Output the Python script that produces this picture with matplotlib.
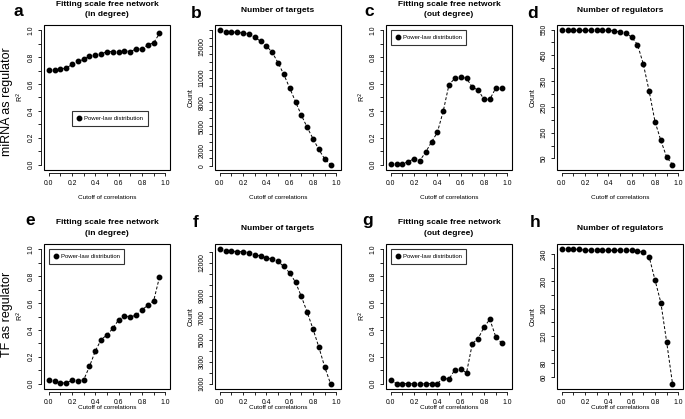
import numpy as np
import matplotlib
matplotlib.use("Agg")
import matplotlib.pyplot as plt
from matplotlib.lines import Line2D
from matplotlib.patches import Rectangle

plt.rcParams['font.family'] = ['Liberation Sans', 'DejaVu Sans']

cutoff = [0.0, 0.05, 0.1, 0.15, 0.2, 0.25, 0.3, 0.35, 0.4, 0.45,
          0.5, 0.55, 0.6, 0.65, 0.7, 0.75, 0.8, 0.85, 0.9, 0.95]

mirna_in_r2 = [0.706, 0.706, 0.711, 0.719, 0.746, 0.769, 0.784, 0.809, 0.817, 0.824,
               0.842, 0.842, 0.842, 0.849, 0.842, 0.862, 0.862, 0.892, 0.907, 0.977]
mirna_targets = [16975, 16800, 16800, 16720, 16640, 16510, 16130, 15630, 15040, 14240,
                 12940, 11470, 9790, 8070, 6390, 4870, 3450, 2100, 920, 210]
mirna_out_r2 = [0.003, 0.003, 0.008, 0.02, 0.045, 0.03, 0.093, 0.168, 0.24, 0.396,
                0.596, 0.642, 0.652, 0.644, 0.576, 0.556, 0.486, 0.486, 0.569, 0.569]
mirna_regulators = [547, 547, 547, 547, 547, 547, 547, 547, 547, 545,
                    540, 536, 521, 492, 416, 311, 193, 120, 55, 26]

tf_in_r2 = [0.03, 0.018, 0.005, 0.005, 0.025, 0.02, 0.028, 0.128, 0.243, 0.328,
            0.363, 0.411, 0.476, 0.506, 0.496, 0.511, 0.549, 0.584, 0.617, 0.794]
tf_targets = [13230, 13080, 13080, 13020, 13020, 12930, 12740, 12620, 12470, 12310,
              12130, 11670, 11090, 10240, 8950, 7510, 5980, 4330, 2530, 1000]
tf_out_r2 = [0.03, 0.0, 0.0, 0.0, 0.0, 0.0, 0.0, 0.0, 0.0, 0.04,
             0.033, 0.103, 0.11, 0.08, 0.298, 0.336, 0.421, 0.479, 0.351, 0.303]
tf_regulators = [247, 247, 247, 247, 245.6, 245.6, 245.6, 245.6, 245.6, 245.6,
                 245.6, 245.6, 245.6, 244, 243, 236, 202, 169, 111, 50]

x_ticks = [0.0, 0.1, 0.2, 0.3, 0.4, 0.5, 0.6, 0.7, 0.8, 0.9, 1.0]
x_labels = ['0.0', '', '0.2', '', '0.4', '', '0.6', '', '0.8', '', '1.0']
r2_ticks = [0.0, 0.1, 0.2, 0.3, 0.4, 0.5, 0.6, 0.7, 0.8, 0.9, 1.0]
r2_labels = ['0.0', '', '0.2', '', '0.4', '', '0.6', '', '0.8', '', '1.0']
b_ticks = list(range(0, 17001, 1000))
b_labels = ['0', '2000', '5000', '8000', '11000', '15000']
f_ticks = list(range(1000, 13001, 1000))
f_labels = ['1000', '3000', '5000', '7000', '9000', '12000']
d_ticks = list(range(50, 551, 50))
d_labels = ['50', '150', '250', '350', '450', '550']
h_ticks = list(range(60, 241, 20))
h_labels = ['240', '200', '160', '120', '80', '60']

W, H = 685, 419
fig = plt.figure(figsize=(W / 100, H / 100), dpi=100)

col_left = [44, 215, 386, 557]
box_w = 126
rows = [(25, 170), (244, 389)]

TICK_FS = 4.9
LAB_FS = 4.6
MS = 3.2

def ftxt(x, y, s, **kw):
    fig.text(x / W, 1 - y / H, s, **kw)

def make_ax(r, c):
    top, bot = rows[r]
    l = col_left[c]
    ax = fig.add_axes([l / W, 1 - bot / H, box_w / W, (bot - top) / H])
    return ax

def style(ax, y, yticks, ylabels_map, ylim=None, ylabel='Count', xlab_off=27):
    for s in ['top', 'right']:
        ax.spines[s].set_visible(False)
    for s in ['left', 'bottom']:
        ax.spines[s].set_position(('outward', 2.5))
        ax.spines[s].set_linewidth(0.6)
    ax.plot(cutoff, y, color='black', lw=0.7, ls=(0, (3, 2)), zorder=2)
    ax.plot(cutoff, y, 'o', color='black', ms=MS, zorder=3)
    ax.set_xlim(-0.04, 1.04)
    if ylim is None:
        lo, hi = min(y), max(y)
        pad = 0.04 * (hi - lo)
        ylim = (lo - pad, hi + pad)
    ax.set_ylim(*ylim)
    ax.set_xticks(x_ticks)
    ax.set_xticklabels(x_labels)
    ax.set_yticks(yticks)
    ax.set_yticklabels([ylabels_map.get(t, '') for t in yticks], va='center')
    ax.tick_params(length=2.4, width=0.6, pad=2, color='black', direction='out',
                   labelsize=TICK_FS)
    ax.tick_params(axis='y', labelrotation=90)
    ax.spines['left'].set_bounds(yticks[0], yticks[-1])
    ax.spines['bottom'].set_bounds(0, 1)
    ax.add_patch(Rectangle((0, 0), 1, 1, transform=ax.transAxes, fill=False,
                           lw=0.8, ec='black', clip_on=False, zorder=4))
    hpx = ax.get_position().height * H
    ax.set_xlabel('Cutoff of correlations', fontsize=LAB_FS)
    ax.xaxis.set_label_coords(0.5, -xlab_off / hpx)
    ax.xaxis.label.set_va('center')
    ax.set_ylabel(ylabel, fontsize=LAB_FS + 0.4)
    ax.yaxis.set_label_coords(-24 / box_w, 0.5)
    ax.yaxis.label.set_va('center')

def add_legend(ax, xy):
    h = Line2D([], [], marker='o', ls='none', color='black', ms=MS)
    leg = ax.legend([h], ['Power-law distribution'], loc='upper left',
                    bbox_to_anchor=xy, bbox_transform=ax.transData,
                    fontsize=4.3, frameon=True, fancybox=False, borderaxespad=0,
                    handlelength=0.8, handletextpad=0.4, borderpad=0.8)
    leg.get_frame().set_edgecolor('black')
    leg.get_frame().set_linewidth(0.8)

r2map = dict(zip(r2_ticks, r2_labels))

def sel_map(ticks, labels):
    vals = [int(l) for l in labels]
    return {t: (str(t) if t in vals else '') for t in ticks}

xo = [27, 18]

# Row 1
ax = make_ax(0, 0)
style(ax, mirna_in_r2, r2_ticks, r2map, ylim=(-0.04, 1.04), ylabel='R$^2$', xlab_off=xo[0])
add_legend(ax, (0.2, 0.4))
ax = make_ax(0, 1)
style(ax, mirna_targets, b_ticks, sel_map(b_ticks, b_labels), xlab_off=xo[0])
ax = make_ax(0, 2)
style(ax, mirna_out_r2, r2_ticks, r2map, ylim=(-0.04, 1.04), ylabel='R$^2$', xlab_off=xo[0])
add_legend(ax, (0.0, 1.0))
ax = make_ax(0, 3)
style(ax, mirna_regulators, d_ticks, sel_map(d_ticks, d_labels), xlab_off=xo[0])

# Row 2
ax = make_ax(1, 0)
style(ax, tf_in_r2, r2_ticks, r2map, ylim=(-0.04, 1.04), ylabel='R$^2$', xlab_off=xo[1])
add_legend(ax, (0.0, 1.0))
ax = make_ax(1, 1)
style(ax, tf_targets, f_ticks, sel_map(f_ticks, f_labels), xlab_off=xo[1])
ax = make_ax(1, 2)
style(ax, tf_out_r2, r2_ticks, r2map, ylim=(-0.04, 1.04), ylabel='R$^2$', xlab_off=xo[1])
add_legend(ax, (0.0, 1.0))
ax = make_ax(1, 3)
style(ax, tf_regulators, h_ticks, sel_map(h_ticks, h_labels), xlab_off=xo[1])

# Titles
TFS = 6.0
cx = [l + box_w / 2 for l in col_left]
ftxt(cx[0], 5, 'Fitting scale free network', ha='center', va='center', fontsize=TFS, fontweight='bold')
ftxt(cx[0], 15, '(in degree)', ha='center', va='center', fontsize=TFS, fontweight='bold')
ftxt(cx[1], 10, 'Number of targets', ha='center', va='center', fontsize=TFS, fontweight='bold')
ftxt(cx[2], 5, 'Fitting scale free network', ha='center', va='center', fontsize=TFS, fontweight='bold')
ftxt(cx[2], 15, '(out degree)', ha='center', va='center', fontsize=TFS, fontweight='bold')
ftxt(cx[3], 10, 'Number of regulators', ha='center', va='center', fontsize=TFS, fontweight='bold')

ftxt(cx[0], 222, 'Fitting scale free network', ha='center', va='center', fontsize=TFS, fontweight='bold')
ftxt(cx[0], 233, '(in degree)', ha='center', va='center', fontsize=TFS, fontweight='bold')
ftxt(cx[1], 228, 'Number of targets', ha='center', va='center', fontsize=TFS, fontweight='bold')
ftxt(cx[2], 222, 'Fitting scale free network', ha='center', va='center', fontsize=TFS, fontweight='bold')
ftxt(cx[2], 233, '(out degree)', ha='center', va='center', fontsize=TFS, fontweight='bold')
ftxt(cx[3], 228, 'Number of regulators', ha='center', va='center', fontsize=TFS, fontweight='bold')

# Panel letters
LFS = 12.5
for s, x, y in [('a', 18, 11), ('b', 196, 13), ('c', 369, 12), ('d', 533, 13),
                ('e', 30, 220), ('f', 196, 222), ('g', 368, 220), ('h', 535, 222)]:
    ftxt(x, y, s, ha='center', va='center', fontsize=LFS, fontweight='bold')

# Row labels
ftxt(7, 102, 'miRNA as regulator', rotation=90, ha='center', va='center', fontsize=9)
ftxt(7, 314, 'TF as regulator', rotation=90, ha='center', va='center', fontsize=9)

fig.savefig('out.png', dpi=100)
